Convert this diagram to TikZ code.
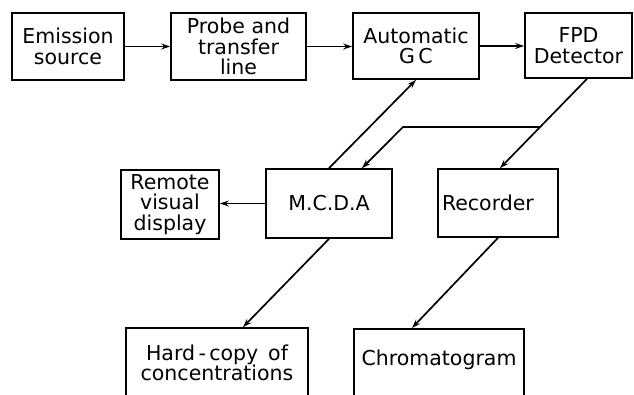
\documentclass[tikz,border=0pt]{standalone}
\usepackage{fontspec}
\setmainfont{DejaVu Sans}
\usepackage{tikz}
\usetikzlibrary{arrows.meta,calc,positioning}

\tikzset{
  blk/.style={draw,align=center,inner sep=0pt,font=\fontsize{20.5}{20.5}\selectfont},
  arr/.style={-{Stealth[length=9pt,width=6pt]}}
}

\begin{document}
\begin{tikzpicture}[x=1pt,y=-1pt,line width=1.7pt]
\useasboundingbox (0,0) rectangle (634,394);
\clip (0,0) rectangle (634,394);
%top row
\node[blk,minimum width=112,minimum height=67] (EMIS) at (68,46.5) {Emission\\source};
\node[blk,minimum width=135,minimum height=67] (PROBE) at (238.5,46.5) {Probe and\\transfer\\line};
\node[blk,minimum width=126,minimum height=66] (AUTOGC) at (416,46) {Automatic\\G\,C};
\node[blk,minimum width=107,minimum height=65] (FPD) at (578.5,45.5) {FPD\\Detector};
%middle row
\node[blk,minimum width=98,minimum height=69] (REMOTE) at (170,204.5) {Remote\\visual\\display};
\node[blk,minimum width=126,minimum height=69] (MCDA) at (329,203.5) {M.C.D.A};
\node[blk,minimum width=120,minimum height=68,text width=112,align=left] (REC) at (498,203) {Recorder};
%bottom row (open at the bottom)
\node[blk,minimum width=182,minimum height=70] (HARDCOPY) at (217,363) {Hard\,-\,copy\, of\\concentrations};
\node[blk,minimum width=170,anchor=north,text height=37pt,text depth=40pt] (CHROM) at (439,328) {Chromatogram};
%flow
\draw[arr] (EMIS.east) -- (EMIS.east -| PROBE.west);
\draw[arr] (PROBE.east) -- (PROBE.east -| AUTOGC.west);
\draw[arr] (AUTOGC.east) -- (AUTOGC.east -| FPD.west);
\draw[arr] (MCDA.north) -- (AUTOGC.south);
\draw[arr] ([xshift=8.5pt]FPD.south) -- coordinate[pos=0.54] (SPLIT) ([xshift=2pt]REC.north);
%branch to mcda
\coordinate (BEND) at (403,127);
\draw[arr] (SPLIT) -- (BEND) -- ([xshift=33pt]MCDA.north);
\draw[arr] (MCDA.west) -- (MCDA.west -| REMOTE.east);
\draw[arr] (MCDA.south) -- ([xshift=26pt]HARDCOPY.north);
\draw[arr] (REC.south) -- ([xshift=-27pt]CHROM.north);
\end{tikzpicture}
\end{document}
